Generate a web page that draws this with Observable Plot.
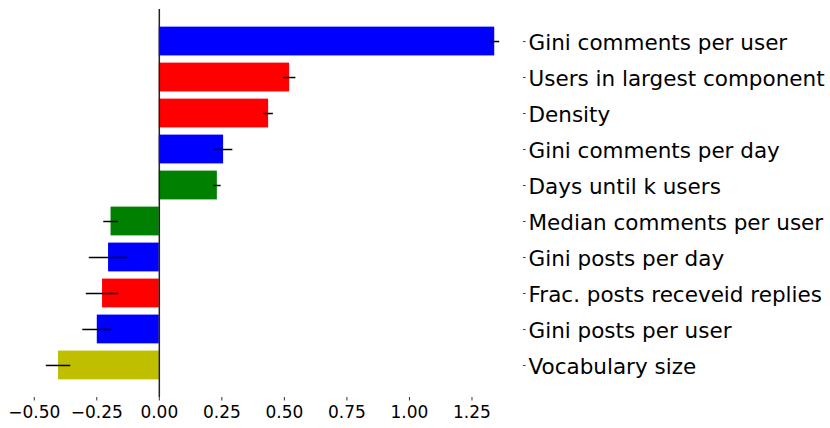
<!DOCTYPE html>
<html>
<head>
<meta charset="utf-8">
<script src="https://cdn.jsdelivr.net/npm/d3@7"></script>
<script src="https://cdn.jsdelivr.net/npm/@observablehq/plot@0.6"></script>
<style>
  html, body { margin: 0; padding: 0; background: #fff; }
  #chart svg { display: block; }
</style>
</head>
<body>
<div id="chart"></div>
<script>
const categories = [
  "Gini comments per user",
  "Users in largest component",
  "Density",
  "Gini comments per day",
  "Days until k users",
  "Median comments per user",
  "Gini posts per day",
  "Frac. posts receveid replies",
  "Gini posts per user",
  "Vocabulary size"
];
const values = [1.341, 0.521, 0.437, 0.257, 0.232, -0.193, -0.203, -0.227, -0.248, -0.403];
const errors = [0.020, 0.025, 0.019, 0.037, 0.015, 0.029, 0.077, 0.065, 0.058, 0.049];
const colors = ["#0000ff", "#ff0000", "#ff0000", "#0000ff", "#008000", "#008000", "#0000ff", "#ff0000", "#0000ff", "#bfbf00"];
const xTicks = [-0.5, -0.25, 0, 0.25, 0.5, 0.75, 1.0, 1.25];

const data = categories.map((name, i) => ({
  name, value: values[i], err: errors[i], color: colors[i]
}));

const chart = Plot.plot({
  width: 830,
  height: 428,
  marginLeft: 23,
  marginRight: 308,
  marginTop: 9,
  marginBottom: 31,
  style: {fontFamily: "'DejaVu Sans', sans-serif", color: "#000", background: "#fff"},
  x: {domain: [-0.543, 1.452], ticks: xTicks, tickFormat: d3.format(".2f")},
  y: {domain: categories, paddingInner: 0.2, paddingOuter: 0.49, round: false},
  marks: [
    Plot.barX(data, {y: "name", x: "value", fill: d => d.color}),
    Plot.ruleY(data, {y: "name", x1: d => d.value - d.err, x2: d => d.value + d.err, stroke: "#000", strokeWidth: 1.5}),
    Plot.ruleX([0], {stroke: "#222", strokeWidth: 1.5}),
    Plot.axisX({anchor: "bottom", ticks: xTicks, tickFormat: d3.format(".2f"), fontSize: 17, tickSize: 3.5, tickPadding: 4.5, strokeWidth: 0.8, label: null}),
    Plot.axisY({anchor: "right", tickSize: 2.5, tickFormat: () => "", strokeWidth: 0.8, label: null}),
    Plot.axisY({anchor: "right", fontSize: 21.5, tickSize: 0, tickPadding: 6, dy: 2, label: null})
  ]
});
document.getElementById("chart").appendChild(chart);
</script>
</body>
</html>
